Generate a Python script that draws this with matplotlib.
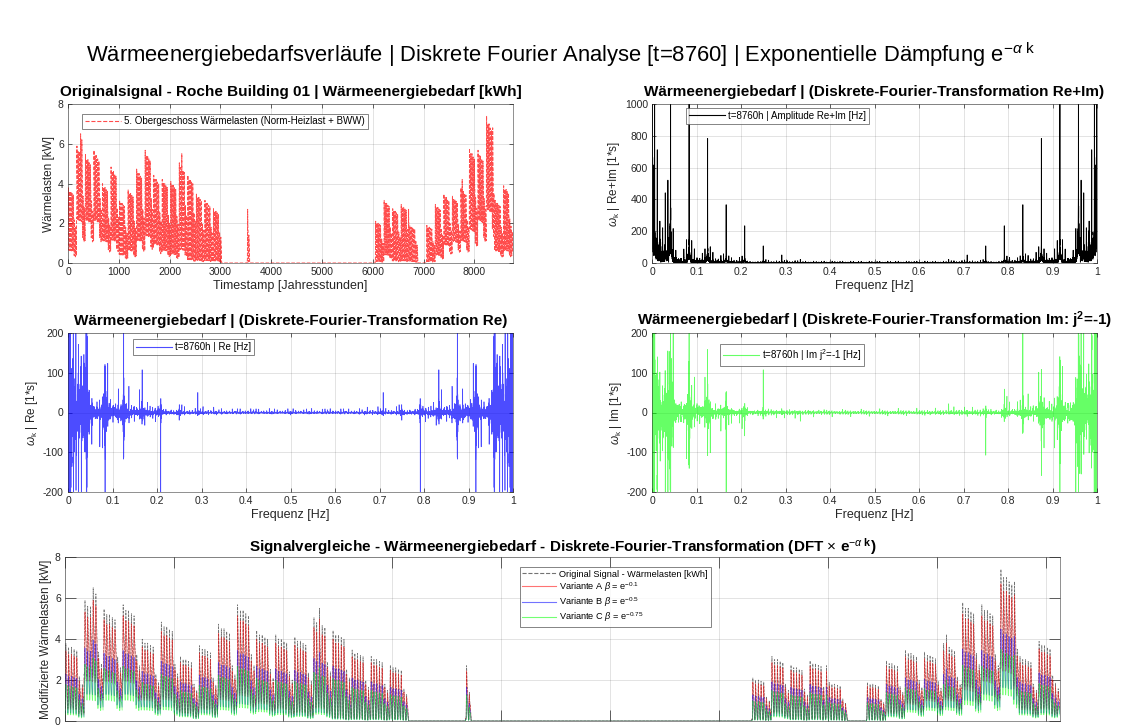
import numpy as np
import matplotlib
matplotlib.use("Agg")
import matplotlib.pyplot as plt

# ---------------- data ----------------
# weekly daytime peak and night base load [kW] (week 0 .. week 52)
week_peak = [3.6, 5.6, 5.2, 5.4, 3.8, 4.6, 3.0, 3.5, 4.5, 5.4,
             4.2, 4.0, 3.9, 4.8, 4.2, 3.3, 3.0, 2.6, 0.0, 0.0,
             0.0, 0.0, 0.0, 0.0, 0.0, 0.0, 0.0, 0.0, 0.0, 0.0,
             0.0, 0.0, 0.0, 0.0, 0.0, 0.0, 2.0, 3.0, 2.6, 2.8,
             1.8, 0.0, 1.8, 2.8, 3.3, 3.2, 3.6, 5.5, 5.4, 7.0,
             3.0, 3.7, 1.5]
week_base = [0.5, 2.0, 2.0, 2.0, 1.0, 1.0, 0.3, 0.5, 1.0, 1.2,
             0.8, 0.5, 0.3, 0.5, 0.0, 0.0, 0.0, 0.0, 0.0, 0.0,
             0.0, 0.0, 0.0, 0.0, 0.0, 0.0, 0.0, 0.0, 0.0, 0.0,
             0.0, 0.0, 0.0, 0.0, 0.0, 0.0, 0.0, 0.3, 0.0, 0.0,
             0.0, 0.0, 0.0, 0.3, 0.8, 1.0, 1.0, 1.5, 2.0, 2.5,
             0.5, 0.5, 0.5]
# relative daily load profile (hour 0 .. 23)
hour_shape = [0.05, 0.04, 0.04, 0.05, 0.10, 0.30, 0.65, 0.95, 1.00, 0.90,
              0.80, 0.72, 0.66, 0.62, 0.60, 0.60, 0.60, 0.56, 0.48, 0.38,
              0.27, 0.18, 0.11, 0.07]
# weekday factor (Mon .. Sun)
weekday_factor = [1.05, 1.00, 1.00, 0.97, 0.95, 0.60, 0.50]
# isolated single-day peaks [day of year, kW]
event_day = [10, 11, 93, 147, 148, 279, 323, 343, 348]
event_peak = [6.5, 6.2, 5.5, 2.7, 1.4, 2.7, 4.2, 7.4, 6.8]

n_hours = 8760
alphas = [0.1, 0.5, 0.75]
variant_names = ["A", "B", "C"]

# ---------------- build hourly signal from the arrays ----------------
hours = np.arange(n_hours)
day = hours // 24
week = hours // 168
hod = hours % 24
dow = day % 7
wf = np.array(weekday_factor)[dow]
peak = np.array(week_peak)[week] * wf
base = np.array(week_base)[week] * wf
for d, p in zip(event_day, event_peak):
    peak[day == d] = p
signal = base + (peak - base) * np.array(hour_shape)[hod]

X = np.fft.fft(signal)
freq = np.arange(n_hours) / n_hours
betas = np.exp(-np.array(alphas))
variants = [np.fft.ifft(X * b).real for b in betas]

# ---------------- style ----------------
plt.rcParams['font.family'] = ['Liberation Sans', 'DejaVu Sans']
plt.rcParams['mathtext.fontset'] = 'custom'
plt.rcParams['mathtext.rm'] = 'Liberation Sans'
plt.rcParams['mathtext.it'] = 'Liberation Sans:italic'
plt.rcParams['mathtext.bf'] = 'Liberation Sans:bold'
plt.rcParams['axes.unicode_minus'] = False
AX = (0.15, 0.15, 0.15)

W, H = 1121, 727
fig = plt.figure(figsize=(W / 100, H / 100), dpi=100)


def px_axes(l, t, r, b):
    return fig.add_axes([l / W, 1 - b / H, (r - l) / W, (b - t) / H])


def style(ax, ticklen=3):
    ax.grid(True, color=AX, alpha=0.15, linewidth=0.6)
    ax.set_axisbelow(True)
    for s in ax.spines.values():
        s.set_color(AX)
        s.set_linewidth(0.6)
        s.set_alpha(0.6)
    ax.tick_params(direction='in', length=ticklen, width=0.5, colors=AX,
                   labelsize=7.5, top=True, right=True, pad=3)


def legend(ax, handles_labels, x, y, fs=7.0, spacing=0.25):
    leg = ax.legend(*handles_labels, loc='upper left', bbox_to_anchor=(x, y),
                    fontsize=fs, frameon=True, fancybox=False, handlelength=3.7,
                    borderpad=0.3, labelspacing=spacing, handletextpad=0.3,
                    borderaxespad=0)
    leg.get_frame().set_edgecolor((0.3, 0.3, 0.3))
    leg.get_frame().set_linewidth(0.6)
    for ln in leg.get_lines():
        ln.set_linewidth(0.8)
    return leg


def finish(ax, title, xlabel, ylabel, pad=6):
    ax.set_title(title, fontsize=11, fontweight='bold', pad=pad)
    if xlabel:
        ax.set_xlabel(xlabel, fontsize=9, color=AX, labelpad=2)
    ax.set_ylabel(ylabel, fontsize=8.5, color=AX, labelpad=2)


freq_ticks = np.arange(0, 1.01, 0.1)
freq_labels = ["0"] + [f"{v:.1f}" for v in freq_ticks[1:-1]] + ["1"]

fig.text(0.5, 1 - 55 / H,
         r"Wärmeenergiebedarfsverläufe | Diskrete Fourier Analyse [t=8760] | Exponentielle Dämpfung e$^{-\alpha\ \mathrm{k}}$",
         ha='center', va='center', fontsize=15.8, color='black')

# --- top left: original signal
ax1 = px_axes(68, 104, 513, 263)
l1, = ax1.plot(hours, signal, color=(1, 0, 0), alpha=0.7, lw=0.7, ls='--')
ax1.set_xlim(0, n_hours)
ax1.set_ylim(0, 8)
ax1.set_xticks(np.arange(0, 8001, 1000))
ax1.set_yticks(np.arange(0, 9, 2))
style(ax1)
finish(ax1, "Originalsignal - Roche Building 01 | Wärmeenergiebedarf [kWh]",
       "Timestamp [Jahresstunden]", "Wärmelasten [kW]")
legend(ax1, ([l1], ["5. Obergeschoss Wärmelasten (Norm-Heizlast + BWW)"]), 0.032, 0.94)

# --- top right: amplitude
ax2 = px_axes(652, 104, 1097, 263)
l2, = ax2.plot(freq, np.abs(X), color='black', lw=0.6)
ax2.set_xlim(0, 1)
ax2.set_ylim(0, 1000)
ax2.set_xticks(freq_ticks)
ax2.set_xticklabels(freq_labels)
ax2.set_yticks(np.arange(0, 1001, 200))
style(ax2)
finish(ax2, "Wärmeenergiebedarf | (Diskrete-Fourier-Transformation Re+Im)",
       "Frequenz [Hz]", r"$\omega_{\mathrm{k}}$ | Re+Im [1*s]")
legend(ax2, ([l2], ["t=8760h | Amplitude Re+Im [Hz]"]), 0.076, 0.975)

# --- middle left: real part
ax3 = px_axes(68, 333, 513, 492)
l3, = ax3.plot(freq, X.real, color=(0, 0, 1), alpha=0.7, lw=0.5)
ax3.set_xlim(0, 1)
ax3.set_ylim(-200, 200)
ax3.set_xticks(freq_ticks)
ax3.set_xticklabels(freq_labels)
ax3.set_yticks(np.arange(-200, 201, 100))
style(ax3)
finish(ax3, "Wärmeenergiebedarf | (Diskrete-Fourier-Transformation Re)",
       "Frequenz [Hz]", r"$\omega_{\mathrm{k}}$ | Re [1*s]")
legend(ax3, ([l3], ["t=8760h | Re [Hz]"]), 0.146, 0.96)

# --- middle right: imaginary part
ax4 = px_axes(652, 333, 1097, 492)
l4, = ax4.plot(freq, X.imag, color=(0, 1, 0), alpha=0.6, lw=0.5)
ax4.set_xlim(0, 1)
ax4.set_ylim(-200, 200)
ax4.set_xticks(freq_ticks)
ax4.set_xticklabels(freq_labels)
ax4.set_yticks(np.arange(-200, 201, 100))
style(ax4)
finish(ax4, r"Wärmeenergiebedarf | (Diskrete-Fourier-Transformation Im: j$^\mathbf{2}$=-1)",
       "Frequenz [Hz]", r"$\omega_{\mathrm{k}}$ | Im [1*s]")
legend(ax4, ([l4], [r"t=8760h | Im j$^2$=-1 [Hz]"]), 0.153, 0.93)

# --- bottom: signal comparison
ax5 = px_axes(65, 557, 1060, 721)
h0, = ax5.plot(hours, signal, color='black', alpha=0.55, lw=0.5, ls='--')
var_colors = [(1, 0, 0), (0, 0, 1), (0, 1, 0)]
handles = [h0]
labels = ["Original Signal - Wärmelasten [kWh]"]
for v, c, name, a in zip(variants, var_colors, variant_names, alphas):
    hh, = ax5.plot(hours, v, color=c, alpha=0.55, lw=0.5)
    handles.append(hh)
    labels.append(r"Variante %s $\beta$ = e$^{-%g}$" % (name, a))
ax5.set_xlim(0, n_hours)
ax5.set_ylim(0, 8)
ax5.set_xticks(np.arange(0, n_hours, 960))
ax5.set_yticks(np.arange(0, 9, 2))
style(ax5, ticklen=8)
ax5.set_xticklabels([])
finish(ax5, r"Signalvergleiche - Wärmeenergiebedarf - Diskrete-Fourier-Transformation (DFT $\times$ e$^{-\alpha\ \mathbf{k}}$)",
       None, "Modifizierte Wärmelasten [kW]", pad=3)
legend(ax5, (handles, labels), 0.457, 0.94, fs=6.6, spacing=0.15)

fig.savefig("out.png", dpi=100)
